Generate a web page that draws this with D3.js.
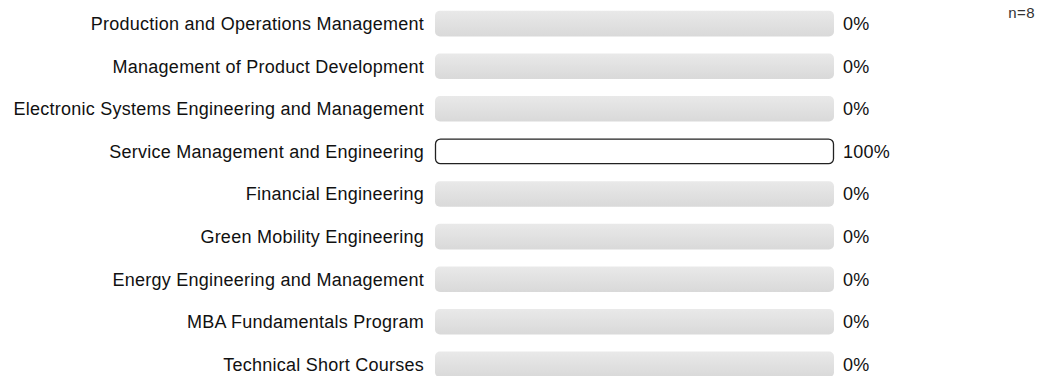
<!DOCTYPE html>
<html>
<head>
<meta charset="utf-8">
<script src="https://cdn.jsdelivr.net/npm/d3@7"></script>
<style>
  body { margin: 0; background: #fff; }
  text { font-family: "Liberation Sans", Arial, sans-serif; }
</style>
</head>
<body>
<div id="chart"></div>
<script>
// answer options and their share of the n=8 responses
const categories = [
  "Production and Operations Management",
  "Management of Product Development",
  "Electronic Systems Engineering and Management",
  "Service Management and Engineering",
  "Financial Engineering",
  "Green Mobility Engineering",
  "Energy Engineering and Management",
  "MBA Fundamentals Program",
  "Technical Short Courses"
]
const percents = [0, 0, 0, 100, 0, 0, 0, 0, 0]
const nLabel = "n=8"

const width = 1050, height = 376
const svg = d3.select("#chart").append("svg").attr("width", width).attr("height", height)

// gray track gradient
const grad = svg.append("defs").append("linearGradient")
  .attr("id", "track").attr("x1", 0).attr("y1", 0).attr("x2", 0).attr("y2", 1)
grad.append("stop").attr("offset", "0%").attr("stop-color", "#e9e9e9")
grad.append("stop").attr("offset", "100%").attr("stop-color", "#d9d9d9")

const x = d3.scaleLinear().domain([0, 100]).range([435, 834])
const y = d3.scaleBand().domain(categories).range([2.3, 385.7]).paddingInner(0.4).paddingOuter(0.2)

const rows = svg.selectAll("g.row").data(categories).enter().append("g").attr("class", "row")

// background track (only visible where no answers)
rows.filter((d, i) => percents[i] < 100)
  .append("rect")
  .attr("x", x(0)).attr("y", d => y(d))
  .attr("width", x(100) - x(0)).attr("height", y.bandwidth())
  .attr("rx", 5).attr("fill", "url(#track)")

// value bar
rows.filter((d, i) => percents[i] > 0)
  .append("rect")
  .attr("x", x(0) + 0.5).attr("y", (d) => y(d) + 0.5)
  .attr("width", (d) => x(percents[categories.indexOf(d)]) - x(0) - 1)
  .attr("height", y.bandwidth() - 1)
  .attr("rx", 5).attr("fill", "#fff").attr("stroke", "#222").attr("stroke-width", 1.3)

// labels
rows.append("text")
  .attr("x", x(0) - 11).attr("y", d => y(d) + y.bandwidth() / 2)
  .attr("dy", "0.35em").attr("text-anchor", "end")
  .attr("font-size", 18).attr("letter-spacing", 0.25).attr("fill", "#111")
  .text(d => d)

rows.append("text")
  .attr("x", x(100) + 9).attr("y", d => y(d) + y.bandwidth() / 2)
  .attr("dy", "0.35em")
  .attr("font-size", 18).attr("letter-spacing", 0.25).attr("fill", "#111")
  .text((d, i) => percents[i] + "%")

svg.append("text").attr("x", 1035).attr("y", 18).attr("text-anchor", "end")
  .attr("font-size", 15).attr("letter-spacing", 0.4).attr("fill", "#333").text(nLabel)
</script>
</body>
</html>
